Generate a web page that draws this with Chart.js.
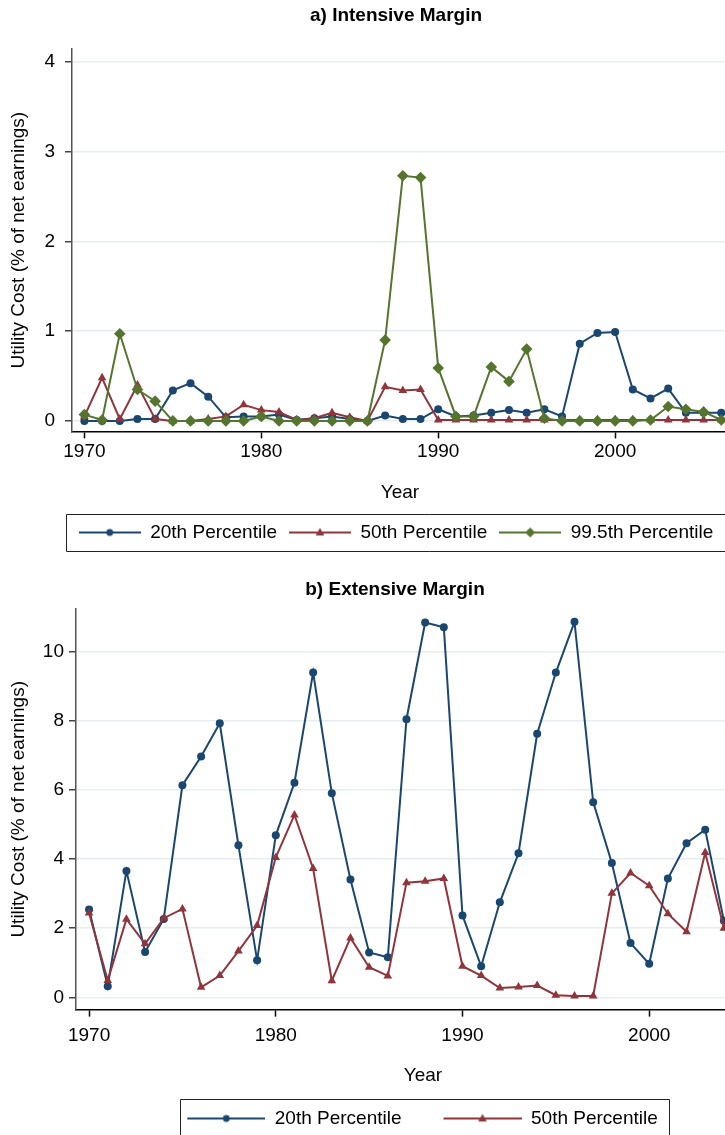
<!DOCTYPE html>
<html>
<head>
<meta charset="utf-8">
<title>Utility Cost</title>
<script src="https://cdn.jsdelivr.net/npm/chart.js@4.4.1/dist/chart.umd.min.js"></script>
<style>
  html, body { margin: 0; padding: 0; overflow: hidden; background: #fff; }
  body { width: 725px; height: 1135px; position: relative; }
  canvas { position: absolute; left: 0; }
  #intensive { top: 0; }
  #extensive { top: 570px; }
</style>
</head>
<body>
<canvas id="intensive" width="792" height="552"></canvas>
<canvas id="extensive" width="790" height="568"></canvas>
<script>
// DATA
const yearsIntensive = [1970, 1971, 1972, 1973, 1974, 1975, 1976, 1977, 1978, 1979,
    1980, 1981, 1982, 1983, 1984, 1985, 1986, 1987, 1988, 1989,
    1990, 1991, 1992, 1993, 1994, 1995, 1996, 1997, 1998, 1999,
    2000, 2001, 2002, 2003, 2004, 2005, 2006, 2007];
const p20Intensive = [0.00, 0.00, 0.00, 0.02, 0.02, 0.34, 0.42, 0.27, 0.04, 0.05,
    0.05, 0.07, 0.01, 0.03, 0.05, 0.02, 0.00, 0.06, 0.02, 0.02,
    0.13, 0.05, 0.06, 0.09, 0.12, 0.09, 0.13, 0.05, 0.86, 0.98,
    0.99, 0.35, 0.25, 0.36, 0.09, 0.09, 0.09, 0.09];
const p50Intensive = [0.05, 0.48, 0.02, 0.40, 0.02, 0.00, 0.00, 0.02, 0.05, 0.18,
    0.12, 0.10, 0.01, 0.03, 0.09, 0.04, 0.00, 0.38, 0.34, 0.35,
    0.01, 0.01, 0.01, 0.01, 0.01, 0.01, 0.01, 0.01, 0.01, 0.01,
    0.01, 0.01, 0.01, 0.01, 0.01, 0.01, 0.01, 0.01];
const p995Intensive = [0.07, 0.01, 0.97, 0.35, 0.22, 0.00, 0.00, 0.00, 0.00, 0.00,
    0.05, 0.00, 0.00, 0.00, 0.00, 0.00, 0.00, 0.90, 2.73, 2.71,
    0.59, 0.05, 0.05, 0.60, 0.44, 0.80, 0.03, 0.00, 0.00, 0.00,
    0.00, 0.00, 0.01, 0.16, 0.13, 0.10, 0.01, 0.00];

const yearsExtensive = [1970, 1971, 1972, 1973, 1974, 1975, 1976, 1977, 1978, 1979,
    1980, 1981, 1982, 1983, 1984, 1985, 1986, 1987, 1988, 1989,
    1990, 1991, 1992, 1993, 1994, 1995, 1996, 1997, 1998, 1999,
    2000, 2001, 2002, 2003, 2004];
const p20Extensive = [2.54, 0.32, 3.66, 1.31, 2.27, 6.14, 6.97, 7.93, 4.40, 1.07,
    4.69, 6.21, 9.40, 5.91, 3.41, 1.30, 1.16, 8.05, 10.85, 10.71,
    2.37, 0.90, 2.75, 4.17, 7.63, 9.40, 10.87, 5.65, 3.89, 1.57,
    0.97, 3.44, 4.46, 4.85, 2.22];
const p50Extensive = [2.44, 0.49, 2.26, 1.55, 2.29, 2.56, 0.29, 0.63, 1.34, 2.08,
    4.05, 5.28, 3.73, 0.48, 1.72, 0.87, 0.62, 3.32, 3.36, 3.44,
    0.90, 0.63, 0.27, 0.30, 0.34, 0.06, 0.04, 0.04, 3.01, 3.60,
    3.23, 2.42, 1.90, 4.19, 2.00];

const xTickYears = [1970, 1980, 1990, 2000];
const yTicksIntensive = [0, 1, 2, 3, 4];
const yTicksExtensive = [0, 2, 4, 6, 8, 10];

// STYLE
const FS = 19;
const NAVY = '#1a476f';
const MAROON = '#90353b';
const GREEN = '#55752f';

Chart.defaults.font.family = "'Liberation Sans', Arial, sans-serif";
Chart.defaults.color = '#000';

// small canvas used as legend symbol: line with the marker in the middle
function legendIcon(color, shape, lead, len) {
    const c = document.createElement('canvas');
    c.width = lead + len;
    c.height = 14;
    const g = c.getContext('2d');
    g.strokeStyle = color;
    g.fillStyle = color;
    g.lineWidth = 2;
    g.beginPath();
    g.moveTo(lead, 7);
    g.lineTo(lead + len, 7);
    g.stroke();
    const cx = lead + len / 2;
    g.beginPath();
    if (shape === 'circle') {
        g.arc(cx, 7, 3.4, 0, Math.PI * 2);
    } else if (shape === 'triangle') {
        g.moveTo(cx, 2.5); g.lineTo(cx + 4.3, 10); g.lineTo(cx - 4.3, 10); g.closePath();
    } else {
        g.moveTo(cx, 2); g.lineTo(cx + 5, 7); g.lineTo(cx, 12); g.lineTo(cx - 5, 7); g.closePath();
    }
    g.fill();
    return c;
}

function series(label, years, values, color, shape, radius, order) {
    return {
        label: label,
        data: years.map((yr, i) => ({ x: yr, y: values[i] })),
        borderColor: color,
        backgroundColor: color,
        borderWidth: 2,
        pointStyle: shape,
        pointRadius: radius,
        pointBackgroundColor: color,
        pointBorderWidth: 0,
        tension: 0,
        order: order
    };
}

// box around the legend, plus sideways shift of the legend row
const legendFrame = {
    id: 'legendFrame',
    afterLayout(chart, args, opts) {
        chart.legend.left += opts.shift;
        chart.legend.right += opts.shift;
    },
    afterDraw(chart, args, opts) {
        const boxes = chart.legend.legendHitBoxes;
        const first = boxes[0];
        const last = boxes[boxes.length - 1];
        const cy = first.top + first.height / 2;
        const left = Math.round(first.left + opts.lead - opts.padL) + 0.5;
        const right = opts.openRight ? chart.width + 5 : Math.round(last.left + last.width + opts.padR) + 0.5;
        const top = Math.round(cy - opts.up) + 0.5;
        const bottom = top + opts.up + opts.down;
        const ctx = chart.ctx;
        ctx.save();
        ctx.strokeStyle = '#222';
        ctx.lineWidth = 1;
        ctx.beginPath();
        ctx.moveTo(right, top);
        ctx.lineTo(left, top);
        ctx.lineTo(left, bottom);
        ctx.lineTo(right, bottom);
        if (!opts.openRight) ctx.closePath();
        ctx.stroke();
        ctx.restore();
    }
};

function chartOptions(o) {
    return {
        responsive: false,
        animation: false,
        devicePixelRatio: 1,
        layout: { padding: 0 },
        plugins: {
            title: {
                display: true, text: o.title, color: '#000',
                font: { size: FS, weight: 'bold' }, padding: o.titlePad
            },
            legend: {
                position: 'bottom',
                labels: {
                    usePointStyle: true,
                    pointStyleWidth: o.iconWidth,
                    color: '#000',
                    font: { size: FS },
                    padding: 12,
                    sort: (a, b) => a.datasetIndex - b.datasetIndex,
                    generateLabels: chart => Chart.defaults.plugins.legend.labels.generateLabels(chart).map(item => {
                        item.pointStyle = o.icons[item.datasetIndex];
                        return item;
                    })
                }
            },
            tooltip: { enabled: false },
            legendFrame: o.frame
        },
        scales: {
            x: {
                type: 'linear', min: o.xMin, max: o.xMax,
                afterBuildTicks: s => { s.ticks = xTickYears.map(v => ({ value: v })); },
                ticks: { color: '#000', font: { size: FS }, padding: o.xTickPad, maxRotation: 0, autoSkip: false, callback: v => String(v) },
                grid: { drawOnChartArea: false, tickLength: 7, tickColor: '#000', tickWidth: 1.5 },
                border: { color: '#000', width: 1.5 },
                title: { display: true, text: 'Year', color: '#000', font: { size: FS }, padding: o.xTitlePad }
            },
            y: {
                min: o.yMin, max: o.yMax,
                afterBuildTicks: s => { s.ticks = o.yTicks.map(v => ({ value: v })); },
                afterFit: s => { s.width = o.yWidth; },
                ticks: { color: '#000', font: { size: FS }, padding: o.yTickPad },
                grid: { color: '#e5edf0', lineWidth: 1.5, tickLength: 7, tickColor: '#444', tickWidth: 1.5 },
                border: { color: '#555', width: 1.5 },
                title: {
                    display: true, text: 'Utility Cost (% of net earnings)', color: '#000',
                    font: { size: FS }, padding: { top: 7, bottom: 0 }
                }
            },
            // empty right-hand margin so the plot region ends where the reference's does
            margin: {
                position: 'right',
                ticks: { display: false },
                grid: { display: false },
                border: { display: false },
                afterFit: s => { s.width = o.rightMargin; }
            }
        }
    };
}

// a) INTENSIVE MARGIN
new Chart(document.getElementById('intensive'), {
    type: 'line',
    data: {
        datasets: [
            series('20th Percentile', yearsIntensive, p20Intensive, NAVY, 'circle', 4, 3),
            series('50th Percentile', yearsIntensive, p50Intensive, MAROON, 'triangle', 5, 2),
            series('99.5th Percentile', yearsIntensive, p995Intensive, GREEN, 'rectRot', 5.8, 1)
        ]
    },
    options: chartOptions({
        title: 'a) Intensive Margin',
        titlePad: { top: 4, bottom: 22 },
        xMin: 1969.3, xMax: 2006.38, xTickPad: 2, xTitlePad: { top: 16, bottom: 7 },
        yMin: -0.117, yMax: 4.145, yTicks: yTicksIntensive, yWidth: 72, yTickPad: 10,
        rightMargin: 64,
        iconWidth: 62,
        icons: [legendIcon(NAVY, 'circle', 0, 62), legendIcon(MAROON, 'triangle', 0, 62), legendIcon(GREEN, 'diamond', 0, 62)],
        frame: { shift: 0, lead: 0, padL: 13, padR: 0, openRight: true, up: 19, down: 18 }
    }),
    plugins: [legendFrame]
});

// b) EXTENSIVE MARGIN
new Chart(document.getElementById('extensive'), {
    type: 'line',
    data: {
        datasets: [
            series('20th Percentile', yearsExtensive, p20Extensive, NAVY, 'circle', 4, 2),
            series('50th Percentile', yearsExtensive, p50Extensive, MAROON, 'triangle', 5, 1)
        ]
    },
    options: chartOptions({
        title: 'b) Extensive Margin',
        titlePad: { top: 8.6, bottom: 7.6 },
        xMin: 1969.3, xMax: 2006.47, xTickPad: 7.6, xTitlePad: { top: 9.6, bottom: 10 },
        yMin: -0.355, yMax: 11.24, yTicks: yTicksExtensive, yWidth: 76, yTickPad: 5,
        rightMargin: 20,
        iconWidth: 108,
        icons: [legendIcon(NAVY, 'circle', 30, 78), legendIcon(MAROON, 'triangle', 30, 78)],
        frame: { shift: 12.5, lead: 30, padL: 7, padR: 11, openRight: false, up: 20, down: 18 }
    }),
    plugins: [legendFrame]
});
</script>
</body>
</html>
